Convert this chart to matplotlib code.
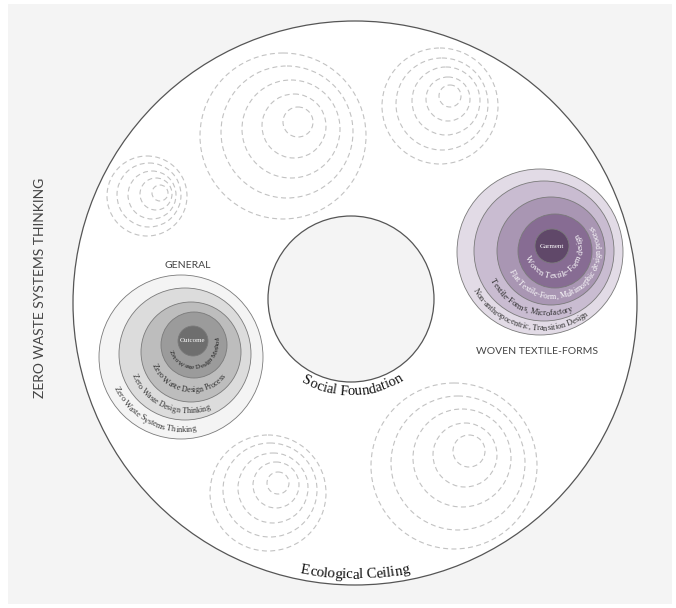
import numpy as np
import matplotlib
matplotlib.use("Agg")
import matplotlib.pyplot as plt
from matplotlib.patches import Circle, Rectangle
from matplotlib.font_manager import FontProperties, findfont
from matplotlib.ft2font import FT2Font

# --- данные диаграммы (пиксели исходной картинки) ---
outer_circle = (355, 303, 282)   # Ecological Ceiling
inner_circle = (351, 299, 83)    # Social Foundation

general_x = [181, 185, 191, 194, 193]
general_y = [357, 354, 352, 345, 341]
general_r = [82, 66, 50, 33, 15]
general_labels = ["Zero Waste Systems Thinking", "Zero Waste Design Thinking",
                  "Zero Waste Design Process", "Zero Waste Design Method"]
general_core = "Outcome"

woven_x = [540, 544, 551, 555, 552]
woven_y = [252, 251, 251, 251, 246]
woven_r = [83, 70, 54, 37, 17]
woven_labels = ["Non-anthropocentric, Transition Design", "Textile-Forms, Microfactory",
                "Flat Textile-Form, Multimorphic design process", "Woven Textile-Form design"]
woven_core = "Garment"

# пустые (пунктирные) группы кругов
dashed_groups = [
    ([147, 149, 152, 156, 160], [196, 195, 195, 194, 193], [40, 32, 24, 16, 8]),
    ([283, 287, 291, 294, 298], [136, 132, 129, 126, 122], [83, 66, 49, 32, 15]),
    ([440, 442, 446, 448, 450], [106, 104, 101, 99, 96], [58, 46, 34, 22, 11]),
    ([268, 270, 273, 276, 278], [493, 490, 488, 485, 483], [58, 47, 35, 23, 11]),
    ([454, 458, 462, 465, 469], [466, 463, 458, 455, 451], [83, 67, 49, 32, 16]),
]

# дуги подписей: (начало, конец) в градусах
general_spans = [(205, 280), (202, 292), (202, 320), (198, 374)]
woven_spans = [(209, 306), (207, 293), (204, 393), (197, 392)]

general_fill = ["#f4f4f4", "#dcdcdc", "#bdbdbd", "#9b9b9b", "#6e6e6e"]
woven_fill = ["#e2dbe6", "#c9bcd1", "#a996b3", "#876c93", "#604869"]

W, H = 676, 608
fig = plt.figure(figsize=(W / 100, H / 100), dpi=100)
ax = fig.add_axes([0, 0, 1, 1])
ax.set_xlim(0, W)
ax.set_ylim(H, 0)
ax.axis("off")

serif = "Liberation Serif"
ft = FT2Font(findfont(FontProperties(family=serif)))
tracking = 0.97   # чуть плотнее, как у гарнитуры оригинала


def glyph_metrics(s, size):
    # advance и центр "чернил" каждого знака, в пикселях
    ft.set_size(size, 100)
    adv, mid = [], []
    for ch in s:
        g = ft.load_char(ord(ch))
        a = g.linearHoriAdvance / 65536
        adv.append(a * tracking)
        if ch == " ":
            mid.append(a * tracking / 2)
        else:
            mid.append((g.horiBearingX + g.width / 2) / 64 * tracking)
    return np.array(adv), np.array(mid)


def arc_text(s, cx, cy, R, a0, a1, color="#222222", size=None):
    # подгоняем размер шрифта под длину дуги
    arc_len = np.radians(a1 - a0) * R
    if size is None:
        size = arc_len / glyph_metrics(s, 10)[0].sum() * 10
    adv, mid = glyph_metrics(s, size)
    total = adv.sum()
    start = np.radians((a0 + a1) / 2) - total / 2 / R
    rb = R + 0.3 * size * 100 / 72
    cum = 0
    for ch, w, m in zip(s, adv, mid):
        th = start + (cum + m) / R
        cum += w
        if ch == " ":
            continue
        ax.text(cx + rb * np.cos(th), cy - rb * np.sin(th), ch,
                rotation=np.degrees(th) + 90, rotation_mode="anchor",
                ha="center", va="baseline", fontsize=size, family=serif,
                color=color)


# фон
ax.add_patch(Rectangle((8, 4), 664, 600, facecolor="#f4f4f4", edgecolor="none"))

cx, cy, r = outer_circle
ax.add_patch(Circle((cx, cy), r, facecolor="white", edgecolor="#555555", lw=0.9))
arc_text("Ecological Ceiling", cx, cy, r - 11, 258.5, 281.5, color="#111111")

for xs, ys, rs in dashed_groups:
    for x, y, rr in zip(xs, ys, rs):
        ax.add_patch(Circle((x, y), rr, fill=False, edgecolor="#c2c2c2", lw=0.8,
                            linestyle=(0, (4.5, 3))))

cx, cy, r = inner_circle
ax.add_patch(Circle((cx, cy), r, facecolor="#f4f4f4", edgecolor="#555555", lw=0.9))
arc_text("Social Foundation", cx, cy, r + 9, 239, 303, color="#111111")


def target(xs, ys, rs, fills, labels, spans, colors, core):
    for x, y, rr, fc in zip(xs, ys, rs, fills):
        ax.add_patch(Circle((x, y), rr, facecolor=fc, edgecolor="#7a7a7a", lw=0.6))
    for i, lab in enumerate(labels):
        mx = (xs[i] + xs[i + 1]) / 2
        my = (ys[i] + ys[i + 1]) / 2
        R = (rs[i] + rs[i + 1]) / 2
        arc_text(lab, mx, my, R, spans[i][0], spans[i][1], color=colors[i])
    ax.text(xs[-1], ys[-1], core, ha="center", va="center", fontsize=5,
            family=serif, color="white")


target(general_x, general_y, general_r, general_fill, general_labels, general_spans,
       ["#333333", "#333333", "#2a2a2a", "#1e1e1e"], general_core)
target(woven_x, woven_y, woven_r, woven_fill, woven_labels, woven_spans,
       ["#333333", "#2a2a2a", "white", "white"], woven_core)

sans = ["Lato", "DejaVu Sans"]
ax.text(188, 265, "GENERAL", ha="center", va="center", fontsize=7.5,
        family=sans, color="#444444")
ax.text(537, 351, "WOVEN TEXTILE-FORMS", ha="center", va="center", fontsize=7.5,
        family=sans, color="#444444")
ax.text(40, 288, "ZERO WASTE SYSTEMS THINKING", ha="center", va="center",
        rotation=90, fontsize=10, family=sans, color="#444444")

fig.savefig("out.png", dpi=100, facecolor="white")
